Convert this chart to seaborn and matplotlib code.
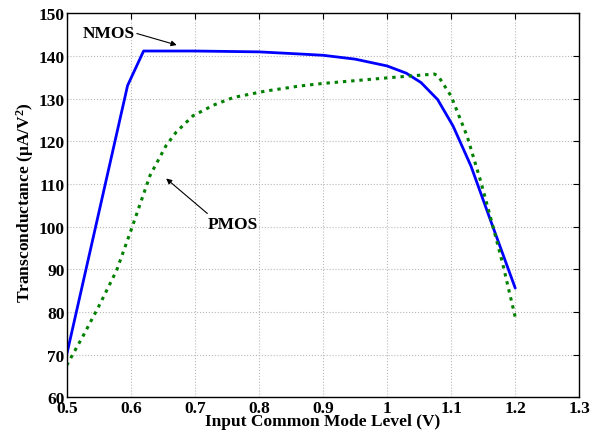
import matplotlib
matplotlib.use("Agg")
import matplotlib.pyplot as plt
import seaborn as sns
import pandas as pd

# Transconductance vs. input common-mode level for the two input pairs
nmos_vcm = [0.5, 0.595, 0.62, 0.70, 0.80, 0.864, 0.90, 0.95, 1.0, 1.03,
            1.053, 1.079, 1.103, 1.131, 1.16, 1.2]
nmos_gm = [70.0, 133.1, 141.2, 141.2, 141.0, 140.5, 140.2, 139.3, 137.7, 136.0,
           133.8, 129.8, 123.6, 114.2, 102.1, 85.6]

pmos_vcm = [0.5, 0.526, 0.552, 0.578, 0.6, 0.63, 0.655, 0.671, 0.697, 0.729,
            0.76, 0.81, 0.864, 0.9, 1.0, 1.074, 1.08, 1.1, 1.125, 1.146,
            1.16, 1.18, 1.2]
pmos_gm = [67.5, 74.5, 81.9, 89.8, 99.0, 112.0, 119.0, 122.2, 126.0, 128.5,
           130.3, 131.8, 133.0, 133.6, 134.9, 135.8, 135.3, 130.6, 121.2, 110.7,
           103.0, 91.6, 78.8]

x_ticks = [0.5, 0.6, 0.7, 0.8, 0.9, 1.0, 1.1, 1.2, 1.3]
x_tick_labels = ["0.5", "0.6", "0.7", "0.8", "0.9", "1", "1.1", "1.2", "1.3"]
y_ticks = [60, 70, 80, 90, 100, 110, 120, 130, 140, 150]

sns.set_style("white")
plt.rcParams["font.family"] = ["Liberation Serif", "DejaVu Serif"]
plt.rcParams["font.weight"] = "bold"
plt.rcParams["axes.labelweight"] = "bold"
plt.rcParams["text.color"] = "black"
plt.rcParams["axes.labelcolor"] = "black"
plt.rcParams["xtick.color"] = "black"
plt.rcParams["ytick.color"] = "black"

nmos = pd.DataFrame({"vcm": nmos_vcm, "gm": nmos_gm})
pmos = pd.DataFrame({"vcm": pmos_vcm, "gm": pmos_gm})

fig = plt.figure(figsize=(6.02, 4.35), dpi=100)
ax = fig.add_axes([0.1108, 0.0844, 0.8515, 0.8823])

sns.lineplot(data=nmos, x="vcm", y="gm", ax=ax, color=(0, 0, 1), lw=2.0,
             sort=False, estimator=None)
sns.lineplot(data=pmos, x="vcm", y="gm", ax=ax, color=(0, 0.5, 0), lw=2.2,
             sort=False, estimator=None, dashes=False)
ax.lines[-1].set_dashes((1.1, 1.6))

ax.set_xlim(0.5, 1.3)
ax.set_ylim(60, 150)
ax.set_xticks(x_ticks)
ax.set_xticklabels(x_tick_labels)
ax.set_yticks(y_ticks)

ax.grid(True, color="#b8b8b8", linestyle=":", lw=0.8)
for s in ax.spines.values():
    s.set_visible(True)
    s.set_color("black")
    s.set_linewidth(1.0)
ax.tick_params(direction="in", length=4, width=0.8, top=True, right=True,
               labelsize=12.5, colors="black", labelcolor="black")
ax.tick_params(axis="x", pad=2)
ax.tick_params(axis="y", pad=1.5)
for lbl in ax.get_xticklabels() + ax.get_yticklabels():
    lbl.set_fontweight("bold")
    lbl.set_color("black")

ax.set_xlabel("Input Common Mode Level (V)", fontsize=12.5, fontweight="bold",
              color="black")
ax.set_ylabel(r"Transconductance (μA/V$\mathregular{^2}$)", fontsize=12.5,
              fontweight="bold", color="black")
ax.xaxis.set_label_coords(0.5, -0.04)
ax.yaxis.set_label_coords(-0.06, 0.51)

arrow = dict(arrowstyle="-|>", color="black", lw=0.8, mutation_scale=8,
             shrinkA=0, shrinkB=0)
ax.text(0.525, 145.4, "NMOS", fontsize=12.5, fontweight="bold",
        ha="left", va="center", color="black")
ax.annotate("", xy=(0.6717, 142.6), xytext=(0.6095, 145.3), arrowprops=arrow)
ax.text(0.7585, 100.6, "PMOS", fontsize=12.5, fontweight="bold",
        ha="center", va="center", color="black")
ax.annotate("", xy=(0.6552, 111.3), xytext=(0.7195, 103.1), arrowprops=arrow)

fig.savefig("out.png", dpi=100)
